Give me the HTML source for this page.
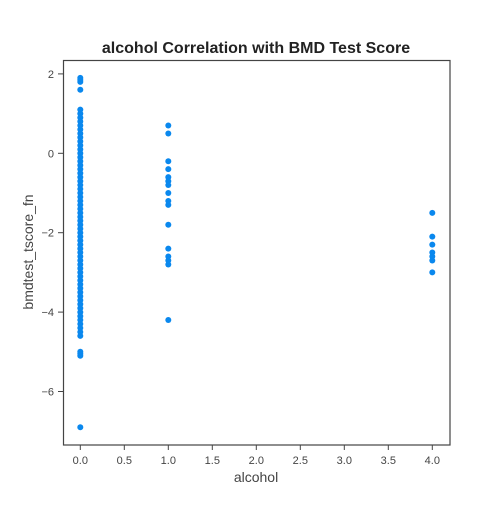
<!DOCTYPE html>
<html><head><meta charset="utf-8"><style>
body{margin:0;background:#fff;}
svg text{font-family:"Liberation Sans",sans-serif;}
</style></head><body>
<svg id="chart" width="500" height="500">
<rect width="500" height="500" fill="#fff"/>
<text x="256" y="53" text-anchor="middle" font-size="16" font-weight="bold" fill="#222">alcohol Correlation with BMD Test Score</text>
<g id="axes"></g>
<g id="pts"></g>
<rect x="63.5" y="60.5" width="386.5" height="384.5" fill="none" stroke="#444" stroke-width="1.2"/>
<text x="256" y="482" text-anchor="middle" font-size="14" fill="#444">alcohol</text>
<text transform="translate(33,252) rotate(-90)" text-anchor="middle" font-size="14" fill="#444">bmdtest_tscore_fn</text>
</svg>
<script>
const xTicks=[0,0.5,1,1.5,2,2.5,3,3.5,4];
const yTicks=[2,0,-2,-4,-6];
const xVals0=[0,0,0,0,0,0,0,0,0,0,0,0];
const yVals0=[1.9,1.85,1.8,1.6,-4.4,-4.5,-4.6,-5.0,-5.05,-5.1,-6.9,-4.3];
const yDense0=[1.1,1.0,0.9,0.8,0.7,0.6,0.5,0.4,0.3,0.2,0.1,0,-0.1,-0.2,-0.3,-0.4,-0.5,-0.6,-0.7,-0.8,-0.9,-1.0,-1.1,-1.2,-1.3,-1.4,-1.5,-1.6,-1.7,-1.8,-1.9,-2.0,-2.1,-2.2,-2.3,-2.4,-2.5,-2.6,-2.7,-2.8,-2.9,-3.0,-3.1,-3.2,-3.3,-3.4,-3.5,-3.6,-3.7,-3.8,-3.9,-4.0,-4.1,-4.2];
const yVals1=[0.7,0.5,-0.2,-0.4,-0.6,-0.7,-0.8,-1.0,-1.2,-1.3,-1.8,-2.4,-2.6,-2.7,-2.8,-4.2];
const yVals4=[-1.5,-2.1,-2.3,-2.5,-2.6,-2.7,-3.0];
const xs=v=>80.3+v*88;
const ys=v=>153.3-v*39.7;
const NS="http://www.w3.org/2000/svg";
const axes=document.getElementById('axes'), pts=document.getElementById('pts');
function mk(t,a,p){const e=document.createElementNS(NS,t);for(const k in a)e.setAttribute(k,a[k]);p.appendChild(e);return e;}
xTicks.forEach(v=>{
 const l=mk('line',{x1:xs(v),x2:xs(v),y1:445,y2:450,stroke:'#444'},axes);
 
 
 const t=mk('text',{x:xs(v),y:464,'text-anchor':'middle','font-size':11,fill:'#444'},axes);
 t.textContent=v.toFixed(1);
 
 
});
yTicks.forEach(v=>{
 const l=mk('line',{x1:58,x2:63.5,y1:ys(v),y2:ys(v),stroke:'#444'},axes);
 
 
 const t=mk('text',{x:54,y:ys(v)+4,'text-anchor':'end','font-size':11,fill:'#444'},axes);
 t.textContent=v<0?'\u2212'+(-v):String(v);
 
 
});
function dot(x,y){
 const c=mk('circle',{cx:xs(x),cy:ys(y),r:3,fill:'#0a88ee'},pts);
 
 
}
yVals0.forEach((y,i)=>dot(xVals0[i],y));
yDense0.forEach(y=>dot(0,y));
yVals1.forEach(y=>dot(1,y));
yVals4.forEach(y=>dot(4,y));
</script>
</body></html>
